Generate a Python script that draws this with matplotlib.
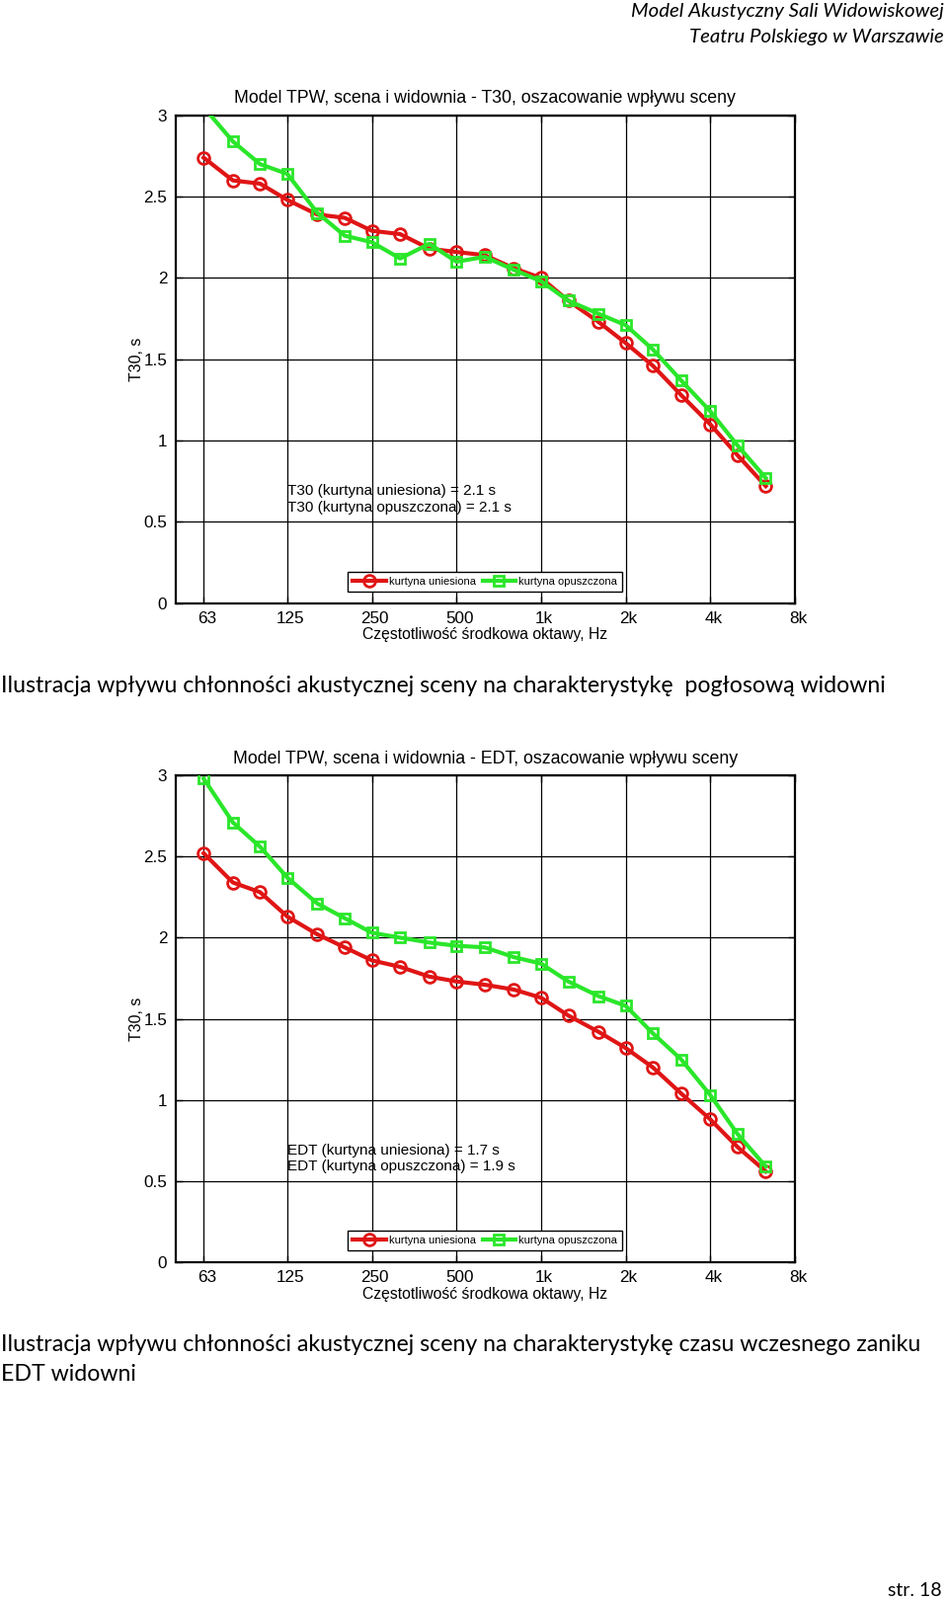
import matplotlib
matplotlib.use('Agg')
import matplotlib.pyplot as plt
from matplotlib.ticker import FixedLocator, NullLocator
from matplotlib.transforms import ScaledTranslation

# 1/3 octave band centre frequencies, Hz
freqs = [63, 80, 100, 125, 160, 200, 250, 315, 400, 500, 630, 800,
         1000, 1250, 1600, 2000, 2500, 3150, 4000, 5000, 6300]

t30_raised = [2.74, 2.60, 2.58, 2.48, 2.39, 2.37, 2.29, 2.27, 2.18, 2.16, 2.14, 2.06,
              2.00, 1.86, 1.73, 1.60, 1.46, 1.28, 1.10, 0.91, 0.72]
t30_lowered = [3.05, 2.84, 2.70, 2.64, 2.40, 2.26, 2.22, 2.12, 2.21, 2.10, 2.13, 2.05,
               1.98, 1.86, 1.78, 1.71, 1.56, 1.37, 1.18, 0.97, 0.77]

edt_raised = [2.52, 2.34, 2.28, 2.13, 2.02, 1.94, 1.86, 1.82, 1.76, 1.73, 1.71, 1.68,
              1.63, 1.52, 1.42, 1.32, 1.20, 1.04, 0.88, 0.71, 0.56]
edt_lowered = [2.98, 2.71, 2.56, 2.37, 2.21, 2.12, 2.03, 2.00, 1.97, 1.95, 1.94, 1.88,
               1.84, 1.73, 1.64, 1.58, 1.41, 1.25, 1.03, 0.79, 0.59]

tick_freqs = [63, 125, 250, 500, 1000, 2000, 4000, 8000]
tick_labels = ['63', '125', '250', '500', '1k', '2k', '4k', '8k']
y_ticks = [0, 0.5, 1, 1.5, 2, 2.5, 3]
y_labels = ['0', '0.5', '1', '1.5', '2', '2.5', '3']

series_names = ['kurtyna uniesiona', 'kurtyna opuszczona']

RED = '#e01515'
GREEN = '#2ae62a'
CHART_FONT = 'Liberation Sans'
DOC_FONT = 'Lato'


def draw_chart(fig, ax, title, raised, lowered, notes):
    ax.plot(freqs, raised, color=RED, lw=3, marker='o', ms=8.5, mfc='none',
            mew=2, label=series_names[0], zorder=3)
    ax.plot(freqs, lowered, color=GREEN, lw=3, marker='s', ms=7.5, mfc='none',
            mew=2, label=series_names[1], zorder=4)

    ax.set_xscale('log')
    ax.set_xlim(50, 8000)
    ax.set_ylim(0, 3)
    ax.xaxis.set_major_locator(FixedLocator(tick_freqs))
    ax.xaxis.set_minor_locator(NullLocator())
    ax.set_xticklabels(tick_labels)
    ax.set_yticks(y_ticks)
    ax.set_yticklabels(y_labels)
    ax.tick_params(direction='in', length=5, width=1, labelsize=12.3, pad=6,
                   top=True, right=True)
    shift = ScaledTranslation(3 / 100, 0, fig.dpi_scale_trans)
    for lbl in ax.get_xticklabels():
        lbl.set_fontfamily(CHART_FONT)
        lbl.set_transform(lbl.get_transform() + shift)
    for lbl in ax.get_yticklabels():
        lbl.set_fontfamily(CHART_FONT)
    ax.grid(True, color='black', lw=0.9)
    for sp in ax.spines.values():
        sp.set_linewidth(1.6)

    ax.set_title(title, fontsize=12.8, fontfamily=CHART_FONT, pad=9)
    ax.set_xlabel('Częstotliwość środkowa oktawy, Hz', fontsize=11.3,
                  fontfamily=CHART_FONT, labelpad=1)
    ax.set_ylabel('T30, s', fontsize=11.5, fontfamily=CHART_FONT, labelpad=0)

    ax.text(125, 0.69, notes[0], fontsize=11, fontfamily=CHART_FONT, va='center')
    ax.text(125, 0.59, notes[1], fontsize=11, fontfamily=CHART_FONT, va='center')

    leg = ax.legend(loc='lower center', ncol=2, frameon=True,
                    fancybox=False, edgecolor='black', framealpha=1,
                    handlelength=3, columnspacing=0.6, handletextpad=0.3,
                    borderpad=0.45, bbox_to_anchor=(0.5, 0.013),
                    prop={'family': CHART_FONT, 'size': 8})
    leg.get_frame().set_linewidth(1.0)


fig = plt.figure(figsize=(9.6, 16.2), dpi=100)

ax1 = fig.add_axes([0.1851, 0.6230, 0.6534, 0.3049])
draw_chart(fig, ax1, 'Model TPW, scena i widownia - T30, oszacowanie wpływu sceny',
           t30_raised, t30_lowered,
           ['T30 (kurtyna uniesiona) = 2.1 s', 'T30 (kurtyna opuszczona) = 2.1 s'])

ax2 = fig.add_axes([0.1851, 0.2111, 0.6534, 0.3043])
draw_chart(fig, ax2, 'Model TPW, scena i widownia - EDT, oszacowanie wpływu sceny',
           edt_raised, edt_lowered,
           ['EDT (kurtyna uniesiona) = 1.7 s', 'EDT (kurtyna opuszczona) = 1.9 s'])

# page header and captions
fig.text(956 / 960, 1 - 12 / 1620, 'Model Akustyczny Sali Widowiskowej',
         ha='right', va='center', fontsize=14.7, style='italic', fontfamily=DOC_FONT)
fig.text(956 / 960, 1 - 38 / 1620, 'Teatru Polskiego w Warszawie',
         ha='right', va='center', fontsize=14.7, style='italic', fontfamily=DOC_FONT)

fig.text(1 / 960, 1 - 694 / 1620,
         'Ilustracja wpływu chłonności akustycznej sceny na charakterystykę  pogłosową widowni',
         ha='left', va='center', fontsize=16.7, fontfamily=DOC_FONT)
fig.text(1 / 960, 1 - 1361 / 1620,
         'Ilustracja wpływu chłonności akustycznej sceny na charakterystykę czasu wczesnego zaniku',
         ha='left', va='center', fontsize=16.7, fontfamily=DOC_FONT)
fig.text(1 / 960, 1 - 1392 / 1620, 'EDT widowni',
         ha='left', va='center', fontsize=16.7, fontfamily=DOC_FONT)
fig.text(954 / 960, 1 - 1610 / 1620, 'str. 18',
         ha='right', va='center', fontsize=14, fontfamily=DOC_FONT)

fig.savefig('out.png', dpi=100, facecolor='white')
